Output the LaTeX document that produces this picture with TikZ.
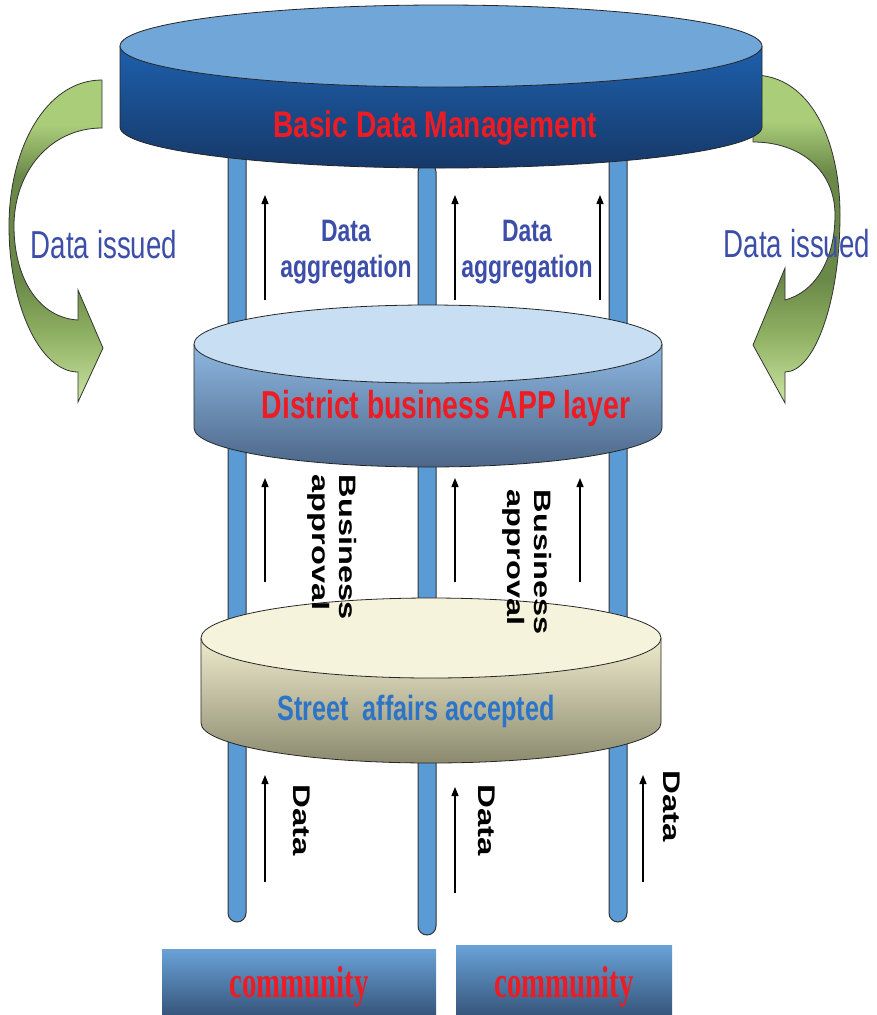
\documentclass[tikz,border=0pt]{standalone}
\usepackage{fontspec}
\setmainfont{Liberation Sans}
\newfontfamily\serifface{Liberation Serif}
\usepackage{graphicx}
\usetikzlibrary{arrows.meta}

\definecolor{topface}{RGB}{112,166,216}
\definecolor{topsideA}{RGB}{30,96,172}
\definecolor{topsideB}{RGB}{22,56,104}
\definecolor{midface}{RGB}{199,222,243}
\definecolor{midsideA}{RGB}{142,184,226}
\definecolor{midsideB}{RGB}{76,102,136}
\definecolor{lowface}{RGB}{245,243,219}
\definecolor{lowsideA}{RGB}{238,235,205}
\definecolor{lowsideB}{RGB}{140,138,110}
\definecolor{polecol}{RGB}{91,155,213}
\definecolor{boxA}{RGB}{106,162,216}
\definecolor{boxB}{RGB}{54,86,124}
\definecolor{labelred}{RGB}{237,28,36}
\definecolor{indigo}{RGB}{60,78,168}
\definecolor{streetblue}{RGB}{46,116,198}
\definecolor{greenlight}{RGB}{202,228,160}
\definecolor{greentop}{RGB}{170,205,122}
\definecolor{greenmid}{RGB}{140,174,96}
\definecolor{greendark}{RGB}{106,136,72}

% green band: light at both ends, dark olive around the bend
\pgfdeclareverticalshading{bandshade}{100bp}{%
  color(0bp)=(greenlight); color(25bp)=(greenlight);
  color(36bp)=(greenmid); color(44bp)=(greendark);
  color(60bp)=(greendark); color(68bp)=(greentop);
  color(75bp)=(greentop); color(100bp)=(greentop)}

% horizontal condensing of a piece of text
\newcommand\squeeze[2]{\scalebox{#1}[1]{#2}}
% vertical condensing (used before a text is turned by -90 degrees)
\newcommand\squash[2]{\scalebox{1}[#1]{#2}}

% a flat cylinder: centre x, centre y of top face, x radius, y radius, depth,
% face colour, side colour at top, side colour at bottom
\newcommand\platter[8]{%
  \shade[top color=#7,bottom color=#8]
    ({#1-#3},{-#2}) -- ({#1-#3},{-#2-#5})
    arc[start angle=180,end angle=360,x radius=#3pt,y radius=#4pt]
    -- ({#1+#3},{-#2}) -- cycle;
  \draw[rim] ({#1-#3},{-#2}) -- ({#1-#3},{-#2-#5})
    arc[start angle=180,end angle=360,x radius=#3pt,y radius=#4pt]
    -- ({#1+#3},{-#2});
  \draw[rim,fill=#6] (#1,-#2) ellipse[x radius=#3pt,y radius=#4pt];
}

\begin{document}
\begin{tikzpicture}[x=1pt,y=1pt,
  rim/.style={draw=black!85,line width=0.8pt},
  polestyle/.style={fill=polecol,draw=black!80,line width=1pt},
  flow/.style={-{Triangle[length=9pt,width=7pt]},line width=1.4pt},
  greenarrow/.style={draw=black!80,line width=0.8pt,shading=bandshade},
  commbox/.style={top color=boxA,bottom color=boxB,inner sep=0pt},
  txt/.style={inner sep=0pt}]
\useasboundingbox (0,0) rectangle (876,-1015);

% curved "issued" arrows on both sides
\draw[greenarrow] (102,-80) .. controls (45,-80) and (9,-150) .. (9,-226)
  .. controls (9,-305) and (40,-372) .. (78,-372)
  -- (78,-402) -- (103,-348) -- (78,-290) -- (78,-320)
  .. controls (40,-318) and (14,-280) .. (14,-226)
  .. controls (14,-172) and (50,-128) .. (102,-128) -- cycle;
\draw[greenarrow] (753,-75) .. controls (810,-75) and (840,-140) .. (840,-215)
  .. controls (840,-300) and (815,-372) .. (785,-372)
  -- (785,-403) -- (753,-345) -- (785,-268) -- (785,-300)
  .. controls (815,-292) and (835,-260) .. (835,-215)
  .. controls (835,-170) and (800,-142) .. (753,-142) -- cycle;

% three supporting poles
\draw[polestyle] (228,-100) -- (228,-913)
  arc[start angle=180,end angle=360,radius=9pt] -- (246,-100) -- cycle;
\draw[polestyle] (418,-926) -- (418,-172)
  arc[start angle=180,end angle=0,radius=9pt] -- (436,-926)
  arc[start angle=0,end angle=-180,radius=9pt] -- cycle;
\draw[polestyle] (609,-100) -- (609,-913)
  arc[start angle=180,end angle=360,radius=9pt] -- (627,-100) -- cycle;

% the three layers
\platter{441}{46}{321}{41}{81}{topface}{topsideA}{topsideB}
\platter{428}{344}{234}{39}{84}{midface}{midsideA}{midsideB}
\platter{431}{638}{230}{40}{85}{lowface}{lowsideA}{lowsideB}

\node[txt,anchor=base,text=labelred,font={\bfseries\fontsize{37}{44}\selectfont}]
  (basic) at (435,-137) {\squeeze{0.76}{Basic Data Management}};
\node[txt,anchor=base,text=labelred,font={\bfseries\fontsize{39}{46}\selectfont}]
  (district) at (446,-418) {\squeeze{0.726}{District business APP layer}};
\node[txt,anchor=base,text=streetblue,font={\bfseries\fontsize{35}{42}\selectfont}]
  (street) at (416,-720) {\squeeze{0.72}{Street\ \ affairs accepted}};

% community blocks
\node[commbox,minimum width=274pt,minimum height=66pt] (comA) at (299,-982) {};
\node[commbox,minimum width=216pt,minimum height=70pt] (comB) at (564,-980) {};
\node[txt,anchor=base,text=labelred,font={\serifface\bfseries\fontsize{45}{50}\selectfont}]
  (comAtext) at (comA.center |- 0,-997) {\squeeze{0.64}{community}};
\node[txt,anchor=base,text=labelred,font={\serifface\bfseries\fontsize{45}{50}\selectfont}]
  (comBtext) at (comB.center |- 0,-997) {\squeeze{0.64}{community}};

% upward flow arrows
\coordinate (ag1s) at (265,-300); \coordinate (ag1e) at (265,-195);
\coordinate (ag2s) at (455,-300); \coordinate (ag2e) at (455,-195);
\coordinate (ag3s) at (600,-300); \coordinate (ag3e) at (600,-195);
\coordinate (bu1s) at (265,-582); \coordinate (bu1e) at (265,-478);
\coordinate (bu2s) at (455,-582); \coordinate (bu2e) at (455,-478);
\coordinate (bu3s) at (580,-582); \coordinate (bu3e) at (580,-478);
\coordinate (da1s) at (265,-882); \coordinate (da1e) at (265,-775);
\coordinate (da2s) at (455,-893); \coordinate (da2e) at (455,-787);
\coordinate (da3s) at (643,-882); \coordinate (da3e) at (643,-775);
\foreach \a in {ag1,ag2,ag3,bu1,bu2,bu3,da1,da2,da3}
  \draw[flow] (\a s) -- (\a e);

% arrow labels
\node[txt,align=center,text=indigo,font={\bfseries\fontsize{31}{36}\selectfont}]
  (agg1) at (346,-252) {\squeeze{0.74}{Data}\\\squeeze{0.74}{aggregation}};
\node[txt,align=center,text=indigo,font={\bfseries\fontsize{31}{36}\selectfont}]
  (agg2) at (527,-252) {\squeeze{0.74}{Data}\\\squeeze{0.74}{aggregation}};

\node[txt,rotate=-90,font={\bfseries\fontsize{32.5}{37}\selectfont}]
  (bap1) at (331,-547) {\squash{0.73}{\begin{tabular}{@{}l@{}}Business\\approval\end{tabular}}};
\node[txt,rotate=-90,font={\bfseries\fontsize{32.5}{37}\selectfont}]
  (bap2) at (526,-562) {\squash{0.73}{\begin{tabular}{@{}l@{}}Business\\approval\end{tabular}}};

\node[txt,rotate=-90,font={\bfseries\fontsize{33}{40}\selectfont}]
  (dat1) at (302,-820) {\squash{0.73}{Data}};
\node[txt,rotate=-90,font={\bfseries\fontsize{33}{40}\selectfont}]
  (dat2) at (487,-820) {\squash{0.73}{Data}};
\node[txt,rotate=-90,font={\bfseries\fontsize{33}{40}\selectfont}]
  (dat3) at (672,-806) {\squash{0.73}{Data}};

\node[txt,anchor=base,text=indigo,font={\fontsize{39}{46}\selectfont}]
  (issL) at (104,-258) {\squeeze{0.71}{Data issued}};
\node[txt,anchor=base,text=indigo,font={\fontsize{39}{46}\selectfont}]
  (issR) at (797,-257) {\squeeze{0.71}{Data issued}};
\end{tikzpicture}
\end{document}
